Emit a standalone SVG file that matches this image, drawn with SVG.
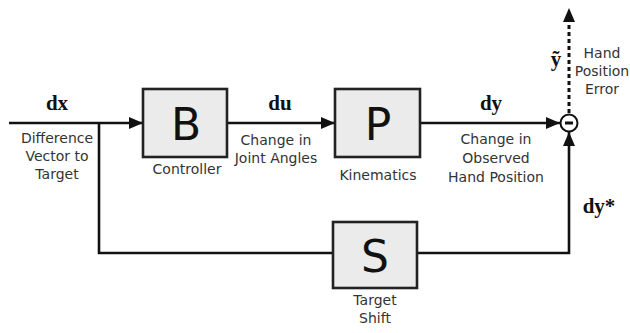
<svg xmlns="http://www.w3.org/2000/svg" width="630" height="333" viewBox="0 0 630 333">
<defs>
<marker id="ah" viewBox="0 0 14 12" refX="14" refY="6" markerWidth="14" markerHeight="12" markerUnits="userSpaceOnUse" orient="auto">
<path d="M0,0 L14,6 L0,12 Z" fill="#111"/>
</marker>
<style>
.box{fill:#ebebeb;stroke:#222;stroke-width:2.6}
.big{font-family:"DejaVu Sans",sans-serif;font-size:44px;fill:#111;text-anchor:middle}
.lbl{font-family:"DejaVu Sans",sans-serif;font-size:14px;fill:#333;text-anchor:middle}
.var{font-family:"Liberation Serif",serif;font-weight:bold;font-size:21px;fill:#111;text-anchor:middle}
.ln{fill:none;stroke:#111;stroke-width:2.6}
</style>
</defs>
<rect width="630" height="333" fill="#fff"/>
<g id="connectors">
<path class="ln" d="M9,123 H143" marker-end="url(#ah)"/>
<path class="ln" d="M99,123 V253 H333"/>
<path class="ln" d="M227,123 H335" marker-end="url(#ah)"/>
<path class="ln" d="M420,123 H560" marker-end="url(#ah)"/>
<path class="ln" d="M417,253 H569 V132" marker-end="url(#ah)"/>
<path d="M569,113 V24" fill="none" stroke="#111" stroke-width="3" stroke-dasharray="4 3"/>
<path d="M569,8 L575,22 L563,22 Z" fill="#111"/>
</g>
<g id="node-B">
<rect class="box" x="143" y="89" width="84" height="68"/>
<text class="big" x="186" y="140">B</text>
<text class="lbl" x="187" y="174">Controller</text>
</g>
<g id="node-P">
<rect class="box" x="335" y="89" width="85" height="68"/>
<text class="big" x="378" y="140">P</text>
<text class="lbl" x="378" y="180">Kinematics</text>
</g>
<g id="node-S">
<rect class="box" x="333" y="222" width="84" height="66"/>
<text class="big" x="375" y="272">S</text>
<text class="lbl" x="375" y="305">Target</text>
<text class="lbl" x="375" y="323">Shift</text>
</g>
<g id="node-sum">
<circle cx="569" cy="123" r="8.5" fill="#fff" stroke="#111" stroke-width="2"/>
<rect x="565" y="121.5" width="8" height="3" fill="#111"/>
</g>
<g id="labels">
<text class="var" x="57" y="110">dx</text>
<text class="lbl" x="57" y="143">Difference</text>
<text class="lbl" x="57" y="161">Vector to</text>
<text class="lbl" x="57" y="179">Target</text>
<text class="var" x="280" y="110">du</text>
<text class="lbl" x="276" y="145">Change in</text>
<text class="lbl" x="276" y="163">Joint Angles</text>
<text class="var" x="491" y="110">dy</text>
<text class="lbl" x="496" y="144">Change in</text>
<text class="lbl" x="496" y="163">Observed</text>
<text class="lbl" x="496" y="182">Hand Position</text>
<text class="var" x="599" y="213">dy*</text>
<text class="var" x="556" y="66">ỹ</text>
<text class="lbl" x="602" y="58">Hand</text>
<text class="lbl" x="602" y="76">Position</text>
<text class="lbl" x="602" y="94">Error</text>
</g>
</svg>
